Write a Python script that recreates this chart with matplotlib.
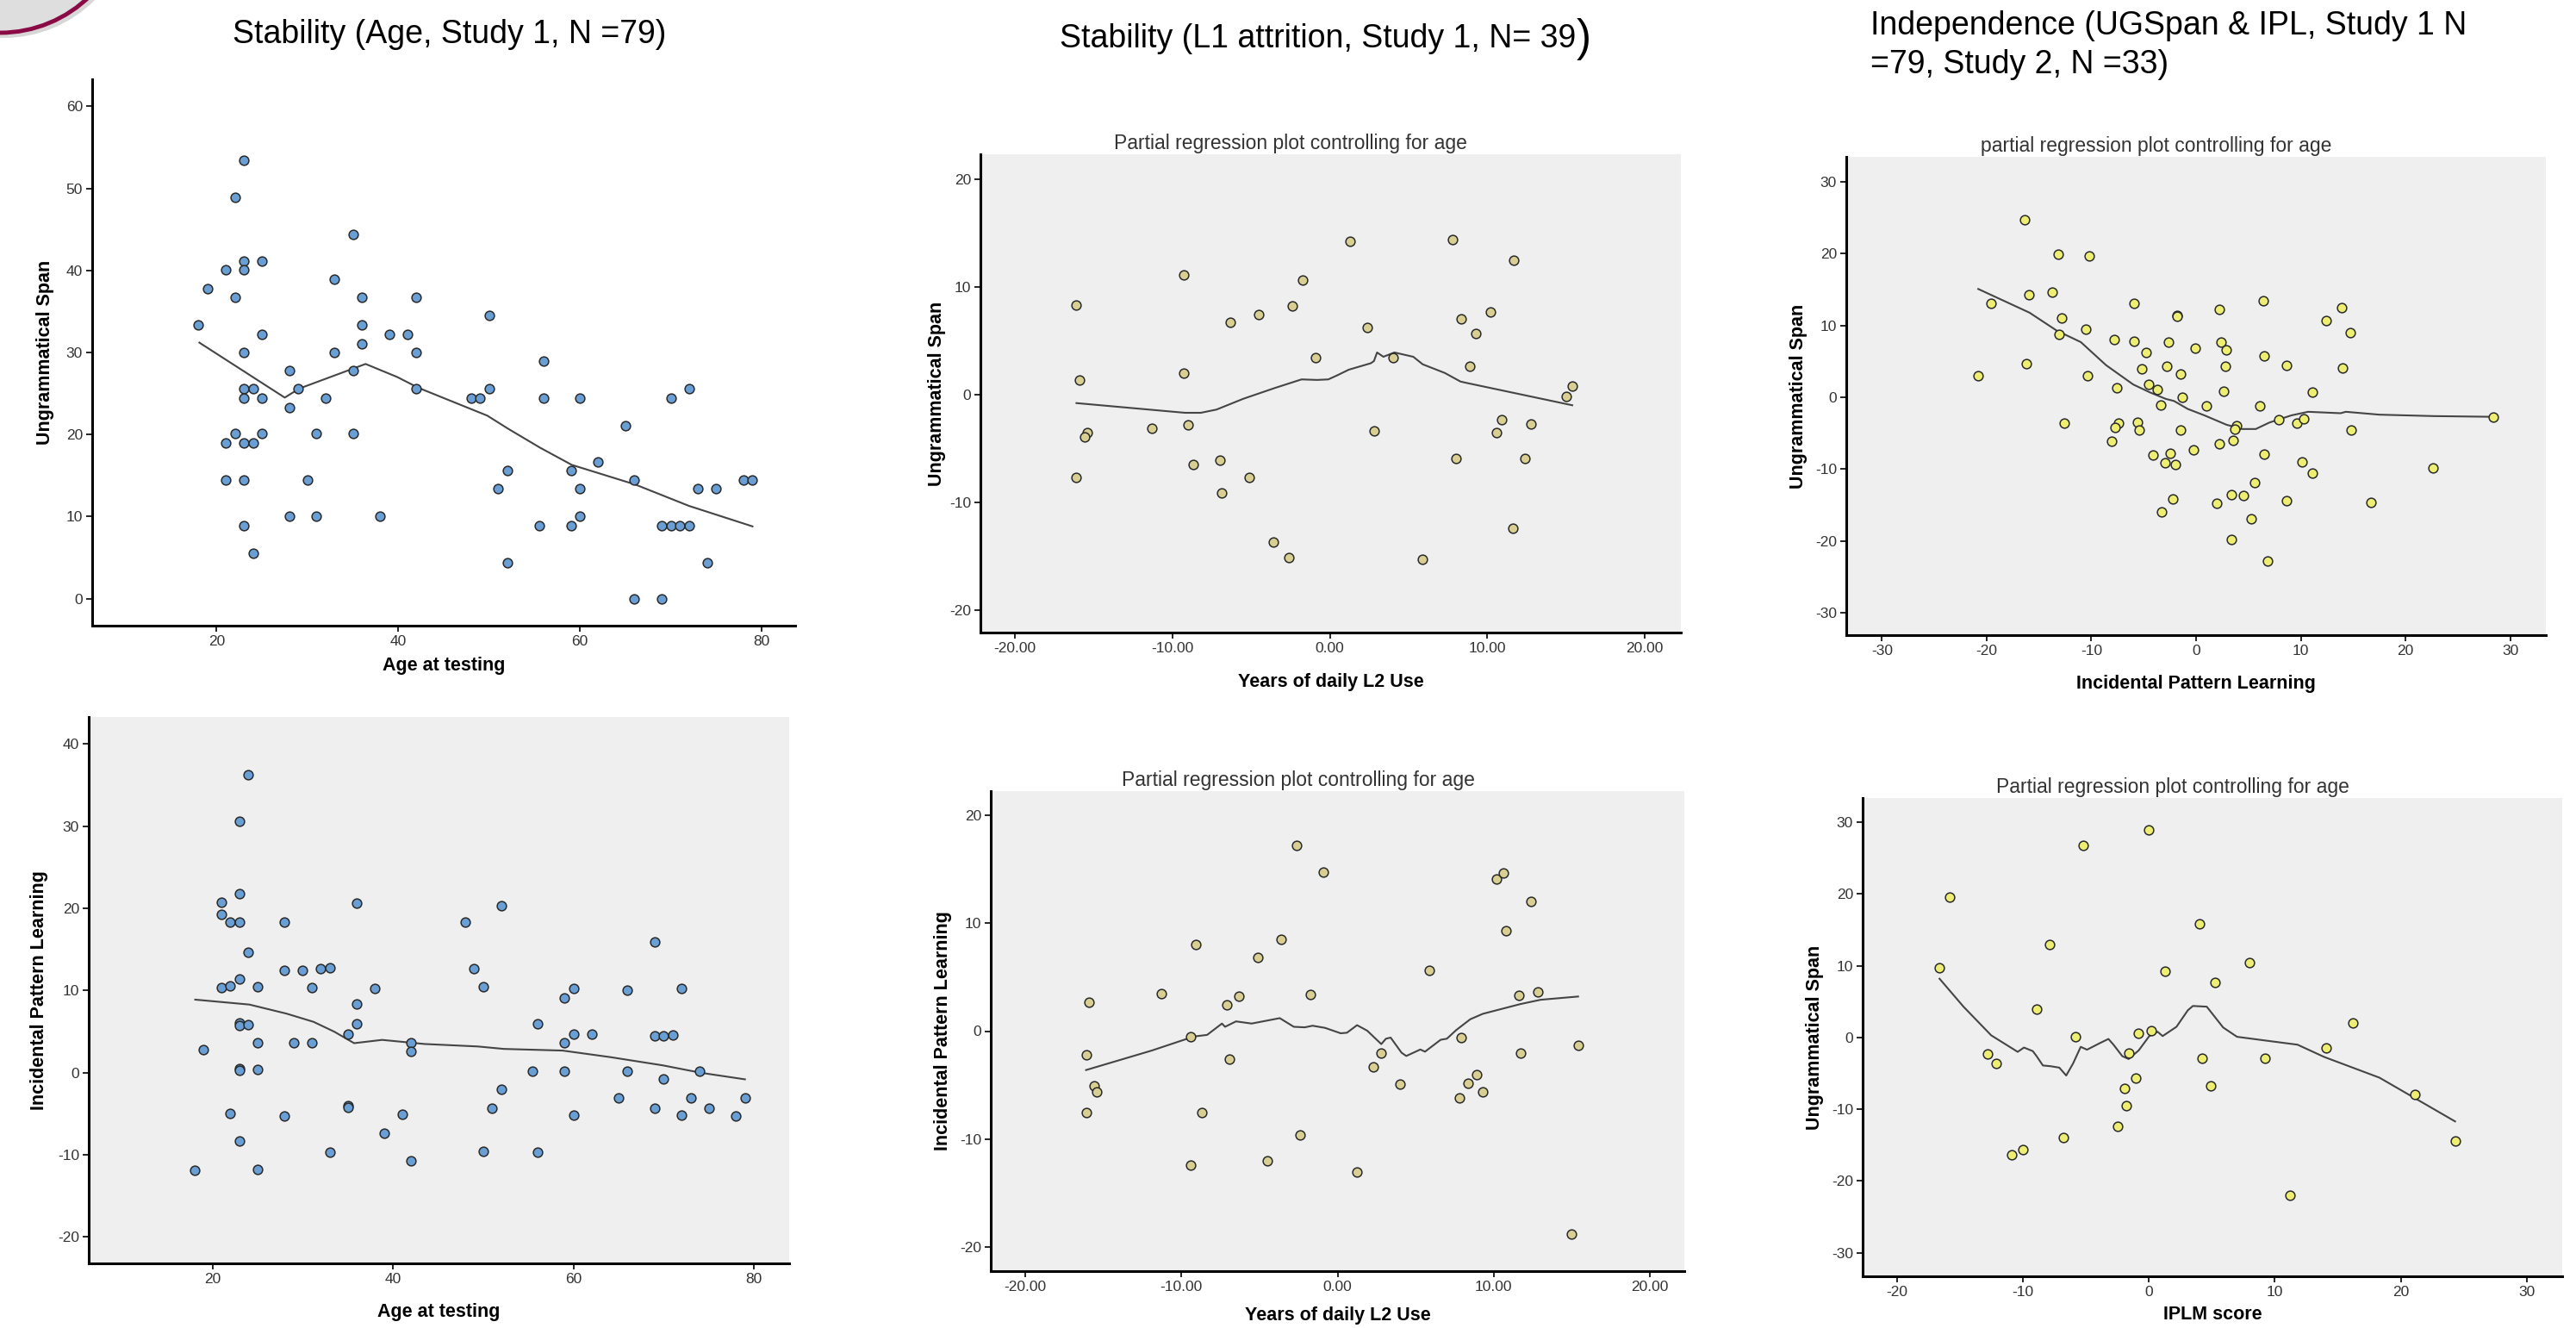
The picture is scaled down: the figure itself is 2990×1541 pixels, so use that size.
"""Six scatter panels with loess lines: stability and independence of UG span / IPL."""
import matplotlib
matplotlib.use("Agg")
import matplotlib.pyplot as plt
from matplotlib.patches import Circle
from matplotlib.ticker import FormatStrFormatter

plt.rcParams['font.family'] = ['Liberation Sans Narrow', 'Liberation Sans', 'DejaVu Sans']
plt.rcParams['axes.unicode_minus'] = False

# ---- Panel 1: age vs ungrammatical span (study 1)
age_ug = [18, 19, 22, 23, 21, 23, 23, 25, 22, 25,
          23, 23, 24, 23, 25, 22, 25, 21, 23, 24,
          21, 23, 23, 24, 28, 28, 29, 28, 30, 31,
          31, 32, 33, 33, 35, 35, 35, 36, 36, 36,
          38, 39, 41, 42, 42, 42, 48, 49, 50, 50,
          51, 52, 52, 55.5, 56, 56, 59, 59, 60, 60,
          60, 62, 65, 66, 66, 69, 69, 70, 71, 72,
          70, 72, 73, 74, 75, 78, 79]
ug_span = [33.4, 37.8, 48.9, 53.4, 40.1, 41.1, 40.1, 41.1, 36.7, 32.2,
           30.0, 25.6, 25.6, 24.4, 24.4, 20.1, 20.1, 19.0, 19.0, 19.0,
           14.5, 14.5, 8.9, 5.5, 27.8, 23.3, 25.6, 10.0, 14.5, 20.1,
           10.0, 24.4, 38.9, 30.0, 44.4, 27.8, 20.1, 36.7, 33.4, 31.1,
           10.0, 32.2, 32.2, 36.7, 30.0, 25.6, 24.4, 24.4, 34.5, 25.6,
           13.4, 15.6, 4.4, 8.9, 28.9, 24.4, 15.6, 8.9, 24.4, 13.4,
           10.0, 16.7, 21.1, 14.5, 0.0, 0.0, 8.9, 8.9, 8.9, 8.9,
           24.4, 25.6, 13.4, 4.4, 13.4, 14.5, 14.5]
fit1_x = [18.1, 27.5, 29.1, 36.4, 39.9, 42.2, 45.1, 49.8, 52.1, 55.6, 59.1, 66.1, 72.0, 79.0]
fit1_y = [31.2, 24.5, 25.6, 28.6, 27.0, 25.7, 24.4, 22.3, 20.7, 18.4, 16.3, 13.9, 11.3, 8.8]

# ---- Panel 4: age vs incidental pattern learning (study 1)
age_ipl = [18, 19, 21, 21, 22, 23, 23, 23, 24, 24,
           23, 21, 22, 25, 23, 23, 24, 25, 23, 23,
           25, 22, 23, 25, 28, 28, 30, 32, 33, 31,
           29, 31, 28, 33, 35, 35, 35, 36, 36, 36,
           38, 39, 41, 42, 42, 42, 48, 49, 50, 50,
           51, 52, 52, 55.5, 56, 56, 59, 60, 59, 60,
           59, 60, 62, 65, 66, 66, 69, 69, 70, 71,
           70, 69, 72, 72, 73, 74, 75, 78, 79]
ipl = [-11.9, 2.8, 20.7, 19.3, 18.3, 18.3, 21.8, 30.6, 36.3, 14.7,
       11.4, 10.4, 10.6, 10.5, 6.1, 5.8, 5.9, 3.7, 0.5, 0.3,
       0.4, -5.0, -8.3, -11.8, 18.3, 12.5, 12.5, 12.7, 12.8, 10.4,
       3.7, 3.6, -5.3, -9.7, 4.7, -4.0, -4.2, 20.6, 8.4, 6.0,
       10.3, -7.4, -5.1, 3.7, 2.6, -10.7, 18.3, 12.7, 10.5, -9.6,
       -4.3, 20.3, -2.0, 0.2, 6.0, -9.7, 9.1, 10.3, 3.6, 4.7,
       0.2, -5.2, 4.7, -3.1, 10.1, 0.2, 15.9, 4.5, 4.5, 4.6,
       -0.8, -4.3, 10.3, -5.2, -3.1, 0.2, -4.3, -5.3, -3.1]
fit4_x = [18.1, 24.1, 28.2, 31.2, 33.5, 35.7, 38.8, 43.5, 49.4, 52.3, 58.8, 64.1, 69.9, 74.1, 79.0]
fit4_y = [8.9, 8.3, 7.2, 6.2, 5.0, 3.6, 4.0, 3.5, 3.2, 2.9, 2.7, 1.9, 0.9, 0.0, -0.8]

# ---- Panel 2: years of daily L2 use vs UG span (partial, N = 39)
l2_ug = [-16.1, -15.9, -15.4, -15.6, -16.1, -11.3, -9.3, -9.3, -9.0, -8.7,
         -7.0, -6.9, -6.3, -4.5, -5.1, -3.6, -2.6, -2.4, -1.75, -0.9,
         1.3, 2.4, 2.8, 4.0, 5.9, 7.8, 8.0, 8.35, 8.9, 9.3,
         10.2, 10.6, 10.9, 11.7, 11.65, 12.4, 12.8, 15.0, 15.4]
ug_part = [8.3, 1.35, -3.5, -3.9, -7.7, -3.1, 11.1, 2.0, -2.8, -6.5,
           -6.1, -9.1, 6.7, 7.4, -7.7, -13.7, -15.1, 8.2, 10.6, 3.4,
           14.2, 6.2, -3.4, 3.4, -15.3, 14.4, -5.9, 7.05, 2.6, 5.7,
           7.7, -3.5, -2.3, 12.5, -12.4, -5.9, -2.7, -0.16, 0.8]
fit2_x = [-16.1, -9.2, -8.2, -7.2, -5.5, -3.5, -1.8, -0.8, -0.1, 0.5, 1.2,
          2.6, 2.8, 3.0, 3.4, 4.1, 5.3, 5.9, 7.3, 8.3, 8.6, 15.4]
fit2_y = [-0.8, -1.7, -1.7, -1.4, -0.4, 0.6, 1.4, 1.35, 1.4, 1.8, 2.3,
          2.9, 3.1, 3.9, 3.5, 3.9, 3.5, 2.8, 2.0, 1.2, 1.1, -1.0]

# ---- Panel 5: years of daily L2 use vs IPL (partial, N = 39)
l2_ipl = [-15.9, -16.1, -15.6, -15.4, -16.1, -11.3, -9.06, -9.4, -9.4, -8.7,
          -7.1, -6.9, -6.3, -5.1, -4.5, -3.6, -2.6, -2.4, -1.75, -0.9,
          1.25, 2.3, 2.8, 4.0, 5.9, 7.8, 7.9, 8.35, 8.9, 9.3,
          10.2, 10.6, 10.8, 11.6, 11.7, 12.4, 12.8, 15.0, 15.4]
ipl_part = [2.7, -2.2, -5.1, -5.6, -7.5, 3.5, 8.0, -0.5, -12.4, -7.5,
            2.4, -2.6, 3.25, 6.8, -12.0, 8.5, 17.2, -9.6, 3.4, 14.7,
            -13.0, -3.3, -2.0, -4.9, 5.6, -6.2, -0.6, -4.8, -4.0, -5.6,
            14.1, 14.6, 9.3, 3.3, -2.0, 12.0, 3.6, -18.8, -1.35]
fit5_x = [-16.1, -11.9, -9.2, -8.35, -7.4, -7.2, -6.5, -5.5, -3.7, -2.8, -2.1,
          -1.6, -0.8, 0.2, 0.6, 1.25, 1.9, 2.8, 3.1, 3.4, 4.1, 4.4, 5.3, 5.6,
          6.6, 7.0, 7.6, 8.5, 9.3, 11.7, 13.0, 15.4]
fit5_y = [-3.6, -1.8, -0.5, -0.35, 0.7, 0.4, 0.9, 0.7, 1.2, 0.4, 0.35,
          0.5, 0.3, -0.2, -0.15, 0.55, 0.04, -1.2, -0.7, -0.6, -2.0, -2.3, -1.7, -1.9,
          -0.8, -0.7, 0.1, 1.1, 1.6, 2.5, 2.9, 3.2]

# ---- Panel 3: IPL vs UG span (partial, study 1)
ipl_s1 = [-16.4, -13.2, -10.2, -13.7, -16.0, -19.6, -12.8, -13.1, -10.5, -16.2,
          -20.8, -10.4, -12.6, -5.9, -7.8, -5.9, -4.8, -5.2, -7.6, -4.5,
          -3.7, -3.4, -2.6, -2.8, -1.8, -1.8, -1.5, -1.3, -0.05, 1.0,
          -5.6, -5.4, -7.4, -7.7, -8.1, -4.1, -2.5, -3.0, -2.0, -1.5,
          -0.26, -2.2, -3.3, 2.2, 2.4, 2.9, 2.8, 2.6, 2.2, 2.0,
          3.5, 3.9, 3.7, 3.4, 4.5, 5.6, 5.3, 3.4, 6.8, 6.4,
          6.5, 6.05, 6.5, 7.9, 8.6, 8.6, 9.6, 10.3, 10.1, 11.1,
          11.1, 12.4, 13.9, 14.7, 14.0, 14.8, 16.7, 22.6, 28.4]
ug_s1 = [24.7, 19.9, 19.7, 14.7, 14.3, 13.1, 11.1, 8.8, 9.5, 4.7,
         3.0, 3.0, -3.6, 13.1, 8.0, 7.8, 6.3, 4.0, 1.3, 1.8,
         1.1, -1.1, 7.7, 4.3, 11.4, 11.3, 3.2, 0.0, 6.8, -1.2,
         -3.5, -4.5, -3.6, -4.2, -6.1, -8.0, -7.8, -9.1, -9.4, -4.6,
         -7.3, -14.2, -16.0, 12.3, 7.7, 6.6, 4.3, 0.9, -6.5, -14.8,
         -6.0, -3.9, -4.4, -13.5, -13.7, -11.9, -16.9, -19.8, -22.8, 13.5,
         5.8, -1.2, -7.9, -3.1, 4.4, -14.4, -3.6, -3.0, -9.0, 0.7,
         -10.5, 10.7, 12.5, 9.0, 4.1, -4.5, -14.6, -9.8, -2.7]
fit3_x = [-20.8, -15.9, -13.3, -11.0, -8.6, -6.0, -4.4, -2.9, -2.1, -0.8, 0.8,
          2.9, 4.4, 5.7, 7.0, 9.1, 10.7, 13.8, 14.3, 17.5, 22.7, 28.4]
fit3_y = [15.1, 11.8, 9.3, 7.7, 4.5, 1.8, 0.7, -0.2, -0.5, -1.6, -2.5,
          -3.8, -4.4, -4.4, -3.5, -2.5, -2.0, -2.2, -2.0, -2.4, -2.6, -2.7]

# ---- Panel 6: IPLM score vs UG span (partial, study 2)
iplm = [-16.6, -15.8, -12.8, -12.1, -10.9, -10.0, -8.9, -7.9, -6.8, -5.8,
        -5.2, -2.5, -1.95, -1.8, -1.6, -1.0, -0.8, 0.0, 0.2, 1.26,
        4.0, 4.2, 4.9, 5.25, 8.0, 9.2, 11.2, 14.1, 16.2, 21.1, 24.3]
ug_s2 = [9.75, 19.6, -2.3, -3.6, -16.4, -15.6, 4.0, 13.0, -14.0, 0.1,
         26.8, -12.4, -7.1, -9.5, -2.2, -5.6, 0.6, 29.0, 1.0, 9.2,
         15.9, -2.9, -6.7, 7.65, 10.4, -2.9, -22.0, -1.5, 2.05, -8.0, -14.4]
fit6_x = [-16.6, -14.7, -12.5, -10.4, -9.9, -9.2, -8.9, -8.4, -7.8, -7.1, -6.55,
          -6.0, -5.4, -4.9, -3.9, -3.2, -2.8, -2.1, -1.6, -0.8, 0.04, 0.7, 1.1,
          2.2, 3.1, 3.5, 4.6, 5.9, 7.0, 8.3, 9.6, 11.8, 13.9, 18.3, 24.3]
fit6_y = [8.2, 4.3, 0.3, -2.0, -1.4, -1.9, -2.6, -3.9, -4.0, -4.2, -5.3,
          -3.6, -1.3, -1.7, -0.8, -0.2, -1.0, -2.6, -3.0, -1.8, 0.2, 0.8, 0.2,
          1.5, 3.8, 4.4, 4.3, 1.4, 0.1, -0.2, -0.5, -1.0, -2.7, -5.6, -11.7]

# colours
BLUE = "#6a9fd6"
KHAKI = "#d9cf92"
YELLOW = "#eeee72"
GREY_BG = "#efefef"

W, H = 2990, 1541
fig = plt.figure(figsize=(W / 100, H / 100), dpi=100)


def px_axes(left, top, right, bottom):
    return fig.add_axes([left / W, 1 - bottom / H, (right - left) / W, (bottom - top) / H])


def draw_panel(ax, x, y, fx, fy, fill, xlim, ylim, xticks, yticks,
               xlabel, ylabel, grey=True, title=None, xfmt=None, xpad=10, ypad=10):
    if grey:
        ax.set_facecolor(GREY_BG)
    ax.plot(fx, fy, color="#454545", lw=1.5, zorder=2)
    ax.scatter(x, y, s=60, c=fill, edgecolors="#2a2a2a", linewidths=1.1, zorder=3)
    ax.set_xlim(*xlim)
    ax.set_ylim(*ylim)
    ax.set_xticks(xticks)
    ax.set_yticks(yticks)
    if xfmt:
        ax.xaxis.set_major_formatter(FormatStrFormatter(xfmt))
    for s in ("top", "right"):
        ax.spines[s].set_visible(False)
    for s in ("left", "bottom"):
        ax.spines[s].set_linewidth(2.2)
    ax.tick_params(direction="out", length=5, width=1.2, labelsize=12.5,
                   labelcolor="#333333", pad=3)
    lab = dict(family=["Liberation Sans", "DejaVu Sans"], fontweight="bold", fontsize=15.5)
    ax.set_xlabel(xlabel, labelpad=xpad, **lab)
    ax.set_ylabel(ylabel, labelpad=ypad, **lab)
    if title:
        # SPSS puts the title a bit left of the plot centre
        ax.set_title(title, fontsize=16.5, color="#333333", pad=4, x=0.443)


ax1 = px_axes(107, 92, 923, 726)
draw_panel(ax1, age_ug, ug_span, fit1_x, fit1_y, BLUE, (6.3, 83.7), (-3.3, 63.3),
           [20, 40, 60, 80], [0, 10, 20, 30, 40, 50, 60],
           "Age at testing", "Ungrammatical Span", grey=False, xpad=7, ypad=10)

ax2 = px_axes(1138, 179, 1951, 734)
draw_panel(ax2, l2_ug, ug_part, fit2_x, fit2_y, KHAKI, (-22.2, 22.3), (-22.1, 22.3),
           [-20, -10, 0, 10, 20], [-20, -10, 0, 10, 20],
           "Years of daily L2 Use", "Ungrammatical Span",
           title="Partial regression plot controlling for age", xfmt="%.2f", xpad=15, ypad=3)

ax3 = px_axes(2143, 182, 2955, 737)
draw_panel(ax3, ipl_s1, ug_s1, fit3_x, fit3_y, YELLOW, (-33.4, 33.4), (-33.1, 33.5),
           [-30, -20, -10, 0, 10, 20, 30], [-30, -20, -10, 0, 10, 20, 30],
           "Incidental Pattern Learning", "Ungrammatical Span",
           title="partial regression plot controlling for age", xpad=14, ypad=6)

ax4 = px_axes(103, 832, 916, 1466)
draw_panel(ax4, age_ipl, ipl, fit4_x, fit4_y, BLUE, (6.3, 83.9), (-23.2, 43.3),
           [20, 40, 60, 80], [-20, -10, 0, 10, 20, 30, 40],
           "Age at testing", "Incidental Pattern Learning", xpad=14, ypad=8)

ax5 = px_axes(1150, 918, 1955, 1475)
draw_panel(ax5, l2_ipl, ipl_part, fit5_x, fit5_y, KHAKI, (-22.2, 22.2), (-22.2, 22.2),
           [-20, -10, 0, 10, 20], [-20, -10, 0, 10, 20],
           "Years of daily L2 Use", "Incidental Pattern Learning",
           title="Partial regression plot controlling for age", xfmt="%.2f", xpad=11, ypad=6)

ax6 = px_axes(2162, 926, 2974, 1481)
draw_panel(ax6, iplm, ug_s2, fit6_x, fit6_y, YELLOW, (-22.7, 32.8), (-33.3, 33.4),
           [-20, -10, 0, 10, 20, 30], [-30, -20, -10, 0, 10, 20, 30],
           "IPLM score", "Ungrammatical Span",
           title="Partial regression plot controlling for age", xpad=6, ypad=6)

# headers
hdr = dict(fontsize=27, color="black", va="center")
fig.text(522 / W, 1 - 40 / H, "Stability (Age, Study 1, N =79)", ha="center", **hdr)
fig.text(1829 / W, 1 - 45 / H, "Stability (L1 attrition, Study 1, N= 39", ha="right", **hdr)
fig.text(1830 / W, 1 - 45 / H, ")", ha="left", fontsize=37, va="center")
fig.text(2171 / W, 1 - 30 / H, "Independence (UGSpan & IPL, Study 1 N", ha="left", **hdr)
fig.text(2171 / W, 1 - 75 / H, "=79, Study 2, N =33)", ha="left", **hdr)

# decorative corner badge
deco = fig.add_axes([0, 0, 1, 1], zorder=-1)
deco.set_xlim(0, W)
deco.set_ylim(H, 0)
deco.axis("off")
deco.add_patch(Circle((4, -106), 150, facecolor="#b0b0b0", edgecolor="none", alpha=0.5))
deco.add_patch(Circle((0, -111), 149, facecolor="#dedede", edgecolor="#8a0a45", lw=3.5))

fig.savefig("out.png", dpi=100)
